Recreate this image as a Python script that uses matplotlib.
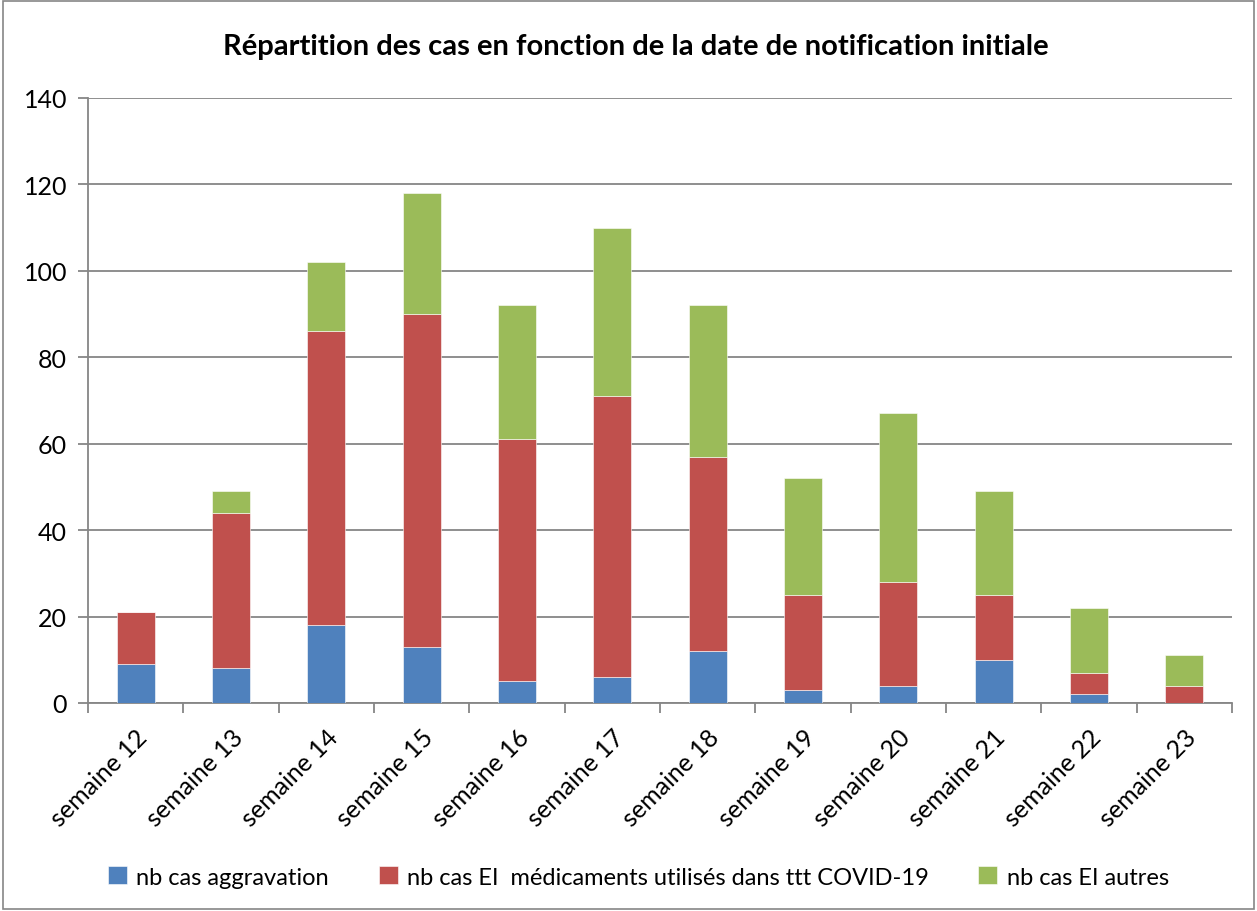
import matplotlib.pyplot as plt
import numpy as np

plt.rcParams['font.family'] = ['Lato', 'DejaVu Sans']

# Data
semaines = ["semaine 12", "semaine 13", "semaine 14", "semaine 15", "semaine 16", "semaine 17",
            "semaine 18", "semaine 19", "semaine 20", "semaine 21", "semaine 22", "semaine 23"]
aggravation = [9, 8, 18, 13, 5, 6, 12, 3, 4, 10, 2, 0]
ei_covid = [12, 36, 68, 77, 56, 65, 45, 22, 24, 15, 5, 4]
ei_autres = [0, 5, 16, 28, 31, 39, 35, 27, 39, 24, 15, 7]

labels = ["nb cas aggravation",
          "nb cas EI  médicaments utilisés dans ttt COVID-19",
          "nb cas EI autres"]
colors = ["#4F81BD", "#C0504D", "#9BBB59"]

fig = plt.figure(figsize=(12.57, 9.12), dpi=100)
ax = fig.add_axes([88 / 1257, 1 - 704 / 912, (1232 - 88) / 1257, (704 - 99) / 912])

x = np.arange(len(semaines))
b1 = np.array(aggravation)
b2 = b1 + np.array(ei_covid)
ax.bar(x, aggravation, width=0.4, color=colors[0], edgecolor="white", linewidth=0.4, label=labels[0], zorder=3)
ax.bar(x, ei_covid, width=0.4, bottom=b1, color=colors[1], edgecolor="white", linewidth=0.4, label=labels[1], zorder=3)
ax.bar(x, ei_autres, width=0.4, bottom=b2, color=colors[2], edgecolor="white", linewidth=0.4, label=labels[2], zorder=3)

ax.set_xlim(-0.5, len(semaines) - 0.5)
ax.set_ylim(0, 140)
ax.set_yticks(range(0, 141, 20))
ax.yaxis.grid(True, color="#868686", linewidth=1.3, zorder=0)
ax.set_axisbelow(True)

# category boundary ticks on x axis
ax.set_xticks(np.arange(-0.5, len(semaines) + 0.5, 1))
ax.set_xticklabels([])
ax.set_xticks(x, minor=True)
ax.set_xticklabels(semaines, minor=True, rotation=45, ha="right", rotation_mode="anchor", fontsize=18)
ax.tick_params(axis="x", which="minor", length=0, pad=16)
ax.tick_params(axis="x", which="major", length=7, color="#868686", width=1.3)
ax.tick_params(axis="y", length=7, color="#868686", width=1.3, labelsize=18, pad=8)

for s in ["top", "right"]:
    ax.spines[s].set_visible(False)
for s in ["left", "bottom"]:
    ax.spines[s].set_color("#868686")
    ax.spines[s].set_linewidth(1.3)

fig.text(0.506, 1 - 47 / 912, "Répartition des cas en fonction de la date de notification initiale",
         ha="center", va="center", fontsize=21, fontweight="bold")

fig.legend(loc="center", bbox_to_anchor=(0.508, 1 - 878 / 912), ncol=3, frameon=False,
           fontsize=17, handlelength=0.8, handleheight=0.8, handletextpad=0.4, columnspacing=2.1)

# outer chart border
fig.patches.append(plt.Rectangle((0.002, 0.002), 0.996, 0.996, transform=fig.transFigure,
                                 fill=False, edgecolor="#868686", linewidth=1.2))

fig.savefig("out.png", dpi=100)
